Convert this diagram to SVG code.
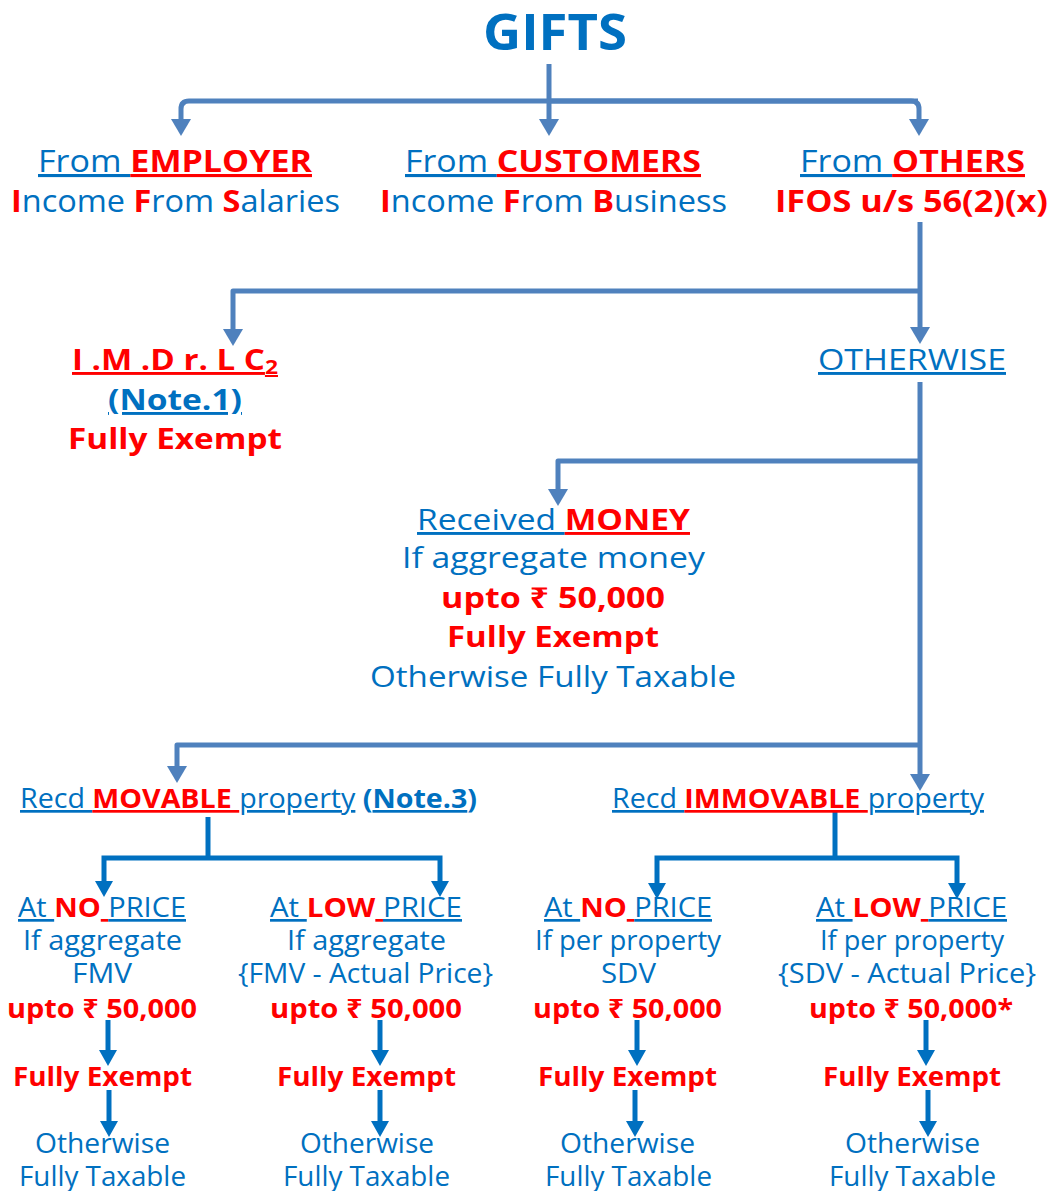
<svg xmlns="http://www.w3.org/2000/svg" width="1058" height="1191" viewBox="0 0 1058 1191">
<style>
text{font-family:"Open Sans","Noto Sans","DejaVu Sans",sans-serif;text-anchor:middle;fill:#0070C0}
.t1{font-size:31px}
.t2{font-size:29px}
.t3{font-size:27px}
.r{fill:#FF0000}
.bd{font-weight:bold}
.u{text-decoration:underline}
.c1{fill:none;stroke:#4F81BD;stroke-width:5;stroke-linejoin:round}
.c2{fill:none;stroke:#0070C0;stroke-width:5;stroke-linejoin:miter}
</style>
<defs>
<marker id="a1" markerUnits="userSpaceOnUse" markerWidth="20" markerHeight="22" refX="4" refY="11" orient="auto" viewBox="0 0 20 22"><path d="M0,1 L17,11 L0,21 z" fill="#4F81BD"/></marker>
<marker id="a2" markerUnits="userSpaceOnUse" markerWidth="20" markerHeight="22" refX="4" refY="10" orient="auto" viewBox="0 0 20 22"><path d="M0,1 L16,10 L0,19 z" fill="#0070C0"/></marker>
</defs>
<rect width="1058" height="1191" fill="#FFFFFF"/>
<g id="connectors">
<path class="c1" d="M549,64 V123" marker-end="url(#a1)"/>
<path class="c1" d="M918,101 H189 Q181,101 181,109 V123" marker-end="url(#a1)"/>
<path class="c1" d="M549,101 H911 Q919,101 919,109 V123" marker-end="url(#a1)"/>
<path class="c1" d="M920,222 V331" marker-end="url(#a1)"/>
<path class="c1" d="M920,291 H233 V333" marker-end="url(#a1)"/>
<path class="c1" d="M920,382 V778" marker-end="url(#a1)"/>
<path class="c1" d="M920,461 H558 V493" marker-end="url(#a1)"/>
<path class="c1" d="M920,745 H177 V770" marker-end="url(#a1)"/>
<path class="c2" d="M208,817 V858"/>
<path class="c2" d="M208,858 H104 V885" marker-end="url(#a2)"/>
<path class="c2" d="M208,858 H440 V885" marker-end="url(#a2)"/>
<path class="c2" d="M835,812 V858"/>
<path class="c2" d="M835,858 H657 V887" marker-end="url(#a2)"/>
<path class="c2" d="M835,858 H957 V887" marker-end="url(#a2)"/>
<path class="c2" d="M108,1020 V1054" marker-end="url(#a2)"/>
<path class="c2" d="M109,1090 V1125" marker-end="url(#a2)"/>
<path class="c2" d="M380,1020 V1054" marker-end="url(#a2)"/>
<path class="c2" d="M380,1090 V1125" marker-end="url(#a2)"/>
<path class="c2" d="M637,1020 V1054" marker-end="url(#a2)"/>
<path class="c2" d="M635,1090 V1125" marker-end="url(#a2)"/>
<path class="c2" d="M926,1020 V1054" marker-end="url(#a2)"/>
<path class="c2" d="M928,1090 V1125" marker-end="url(#a2)"/>
</g>
<g id="gifts"><text x="555" y="50" class="bd" font-size="50" textLength="144" lengthAdjust="spacingAndGlyphs">GIFTS</text></g>
<g id="employer">
<text x="175" y="172" class="t1" textLength="274" lengthAdjust="spacingAndGlyphs"><tspan class="u">From </tspan><tspan class="r bd u">EMPLOYER</tspan></text>
<text x="175.5" y="212" class="t1" textLength="329" lengthAdjust="spacingAndGlyphs"><tspan class="r bd">I</tspan>ncome <tspan class="r bd">F</tspan>rom <tspan class="r bd">S</tspan>alaries</text>
</g>
<g id="customers">
<text x="553" y="172" class="t1" textLength="296" lengthAdjust="spacingAndGlyphs"><tspan class="u">From </tspan><tspan class="r bd u">CUSTOMERS</tspan></text>
<text x="553.5" y="212" class="t1" textLength="347" lengthAdjust="spacingAndGlyphs"><tspan class="r bd">I</tspan>ncome <tspan class="r bd">F</tspan>rom <tspan class="r bd">B</tspan>usiness</text>
</g>
<g id="others">
<text x="912.5" y="172" class="t1" textLength="225" lengthAdjust="spacingAndGlyphs"><tspan class="u">From </tspan><tspan class="r bd u">OTHERS</tspan></text>
<text x="911.5" y="212" class="t1 r bd" textLength="273" lengthAdjust="spacingAndGlyphs">IFOS u/s 56(2)(x)</text>
</g>
<g id="imdrlc">
<text x="175" y="370" class="t2 r bd u" textLength="206" lengthAdjust="spacingAndGlyphs">I .M .D r. L C<tspan font-size="20" dy="4">2</tspan></text>
<text x="175" y="410" class="t2 bd u" textLength="134" lengthAdjust="spacingAndGlyphs">(Note.1)</text>
<text x="175" y="449" class="t2 r bd" textLength="214" lengthAdjust="spacingAndGlyphs">Fully Exempt</text>
</g>
<g id="otherwise">
<text x="912" y="370" class="t2 u" textLength="188" lengthAdjust="spacingAndGlyphs">OTHERWISE</text>
</g>
<g id="money">
<text x="553.5" y="530" class="t2" textLength="273" lengthAdjust="spacingAndGlyphs"><tspan class="u">Received </tspan><tspan class="r bd u">MONEY</tspan></text>
<text x="553.5" y="568" class="t2" textLength="303" lengthAdjust="spacingAndGlyphs">If aggregate money</text>
<text x="553" y="608" class="t2 r bd" textLength="224" lengthAdjust="spacingAndGlyphs">upto ₹ 50,000</text>
<text x="553" y="647" class="t2 r bd" textLength="212" lengthAdjust="spacingAndGlyphs">Fully Exempt</text>
<text x="553" y="687" class="t2" textLength="366" lengthAdjust="spacingAndGlyphs">Otherwise Fully Taxable</text>
</g>
<g id="movable">
<text x="248.5" y="808" class="t3" textLength="457" lengthAdjust="spacingAndGlyphs"><tspan class="u">Recd </tspan><tspan class="r bd u">MOVABLE </tspan><tspan class="u">property</tspan><tspan class="bd"> (</tspan><tspan class="bd u">Note.3</tspan><tspan class="bd">)</tspan></text>
</g>
<g id="immovable">
<text x="798" y="808" class="t3" textLength="372" lengthAdjust="spacingAndGlyphs"><tspan class="u">Recd </tspan><tspan class="r bd u">IMMOVABLE </tspan><tspan class="u">property</tspan></text>
</g>
<g id="mov-no-price">
<text x="102" y="917" class="t3" textLength="168" lengthAdjust="spacingAndGlyphs"><tspan class="u">At </tspan><tspan class="r bd">NO</tspan><tspan class="r u"> </tspan><tspan class="u">PRICE</tspan></text>
<text x="102.5" y="950" class="t3" textLength="159" lengthAdjust="spacingAndGlyphs">If aggregate</text>
<text x="102" y="983" class="t3" textLength="60" lengthAdjust="spacingAndGlyphs">FMV</text>
<text x="102" y="1018" class="t3 r bd" textLength="190" lengthAdjust="spacingAndGlyphs">upto ₹ 50,000</text>
<text x="102.5" y="1086" class="t3 r bd" textLength="179" lengthAdjust="spacingAndGlyphs">Fully Exempt</text>
<text x="102.5" y="1153" class="t3" textLength="135" lengthAdjust="spacingAndGlyphs">Otherwise</text>
<text x="102.5" y="1186" class="t3" textLength="167" lengthAdjust="spacingAndGlyphs">Fully Taxable</text>
</g>
<g id="mov-low-price">
<text x="366" y="917" class="t3" textLength="192" lengthAdjust="spacingAndGlyphs"><tspan class="u">At </tspan><tspan class="r bd">LOW</tspan><tspan class="r u"> </tspan><tspan class="u">PRICE</tspan></text>
<text x="366.5" y="950" class="t3" textLength="159" lengthAdjust="spacingAndGlyphs">If aggregate</text>
<text x="365.5" y="983" class="t3" textLength="255" lengthAdjust="spacingAndGlyphs">{FMV - Actual Price}</text>
<text x="366" y="1018" class="t3 r bd" textLength="192" lengthAdjust="spacingAndGlyphs">upto ₹ 50,000</text>
<text x="366.5" y="1086" class="t3 r bd" textLength="179" lengthAdjust="spacingAndGlyphs">Fully Exempt</text>
<text x="367" y="1153" class="t3" textLength="134" lengthAdjust="spacingAndGlyphs">Otherwise</text>
<text x="366.5" y="1186" class="t3" textLength="167" lengthAdjust="spacingAndGlyphs">Fully Taxable</text>
</g>
<g id="imm-no-price">
<text x="628" y="917" class="t3" textLength="168" lengthAdjust="spacingAndGlyphs"><tspan class="u">At </tspan><tspan class="r bd">NO</tspan><tspan class="r u"> </tspan><tspan class="u">PRICE</tspan></text>
<text x="628" y="950" class="t3" textLength="186" lengthAdjust="spacingAndGlyphs">If per property</text>
<text x="628.5" y="983" class="t3" textLength="55" lengthAdjust="spacingAndGlyphs">SDV</text>
<text x="627.5" y="1018" class="t3 r bd" textLength="189" lengthAdjust="spacingAndGlyphs">upto ₹ 50,000</text>
<text x="627.5" y="1086" class="t3 r bd" textLength="179" lengthAdjust="spacingAndGlyphs">Fully Exempt</text>
<text x="627.5" y="1153" class="t3" textLength="135" lengthAdjust="spacingAndGlyphs">Otherwise</text>
<text x="628.5" y="1186" class="t3" textLength="167" lengthAdjust="spacingAndGlyphs">Fully Taxable</text>
</g>
<g id="imm-low-price">
<text x="911.5" y="917" class="t3" textLength="191" lengthAdjust="spacingAndGlyphs"><tspan class="u">At </tspan><tspan class="r bd">LOW</tspan><tspan class="r u"> </tspan><tspan class="u">PRICE</tspan></text>
<text x="912" y="950" class="t3" textLength="184" lengthAdjust="spacingAndGlyphs">If per property</text>
<text x="907" y="983" class="t3" textLength="258" lengthAdjust="spacingAndGlyphs">{SDV - Actual Price}</text>
<text x="911" y="1018" class="t3 r bd" textLength="204" lengthAdjust="spacingAndGlyphs">upto ₹ 50,000*</text>
<text x="912" y="1086" class="t3 r bd" textLength="178" lengthAdjust="spacingAndGlyphs">Fully Exempt</text>
<text x="912.5" y="1153" class="t3" textLength="135" lengthAdjust="spacingAndGlyphs">Otherwise</text>
<text x="912.5" y="1186" class="t3" textLength="167" lengthAdjust="spacingAndGlyphs">Fully Taxable</text>
</g>
</svg>
